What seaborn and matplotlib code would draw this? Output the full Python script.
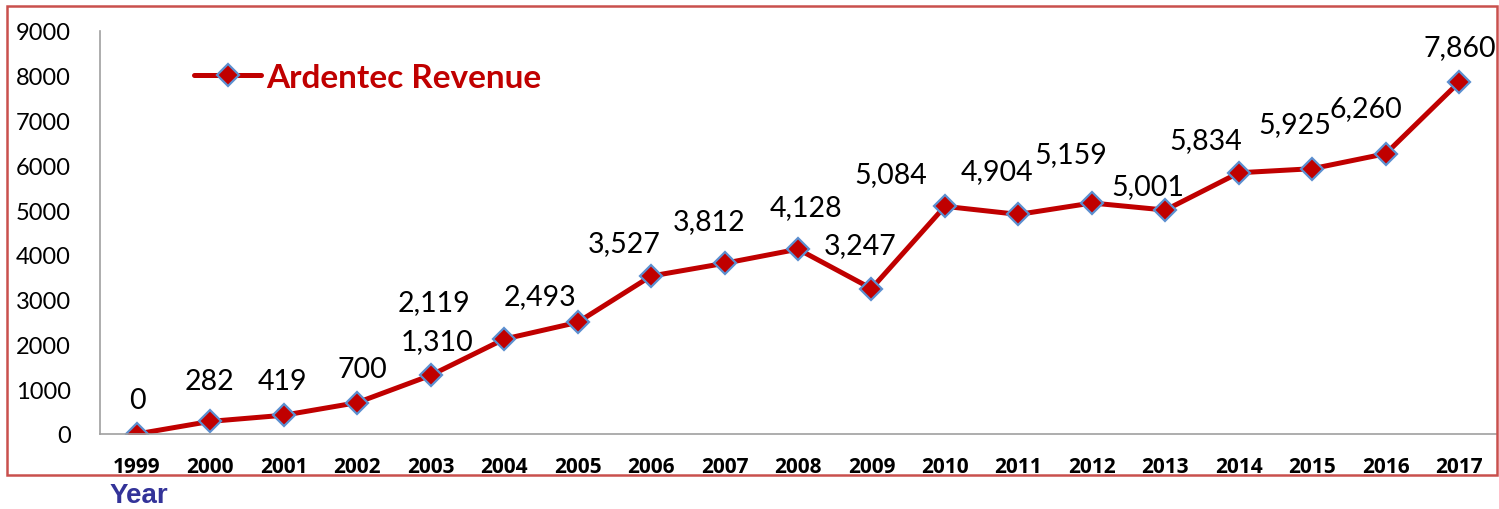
import matplotlib
matplotlib.use("Agg")
import matplotlib.pyplot as plt
import seaborn as sns
import pandas as pd
from matplotlib.patches import Rectangle

years = [str(y) for y in range(1999, 2018)]
revenue = [0, 282, 419, 700, 1310, 2119, 2493, 3527, 3812, 4128, 3247,
           5084, 4904, 5159, 5001, 5834, 5925, 6260, 7860]
labels = [f"{v:,}" for v in revenue]
yticks = list(range(0, 9001, 1000))

# label offsets in pixels (dx, dy) relative to each point
label_off = [(1, 34), (-1, 40), (-1, 34), (5, 34), (6, 34), (-70, 37), (-38, 26),
             (-27, 33), (-15, 42), (8, 42), (-11, 44), (-54, 32), (-21, 43),
             (-21, 49), (-18, 24), (-33, 33), (-18, 45), (-20, 46), (1, 35)]

sns.set_style("white")
plt.rcParams['font.family'] = ['Lato', 'DejaVu Sans']

fig = plt.figure(figsize=(14.99, 5.10), dpi=100)
ax = fig.add_axes([100/1499, 75/510, 1396/1499, 403/510])

df = pd.DataFrame({"pos": range(len(years)), "rev": revenue})
sns.lineplot(data=df, x="pos", y="rev", ax=ax, color="#C00000", linewidth=3.6,
             marker="D", markersize=11, markerfacecolor="#C00000",
             markeredgecolor="#5B8FD0", markeredgewidth=1.6, label="Ardentec Revenue")

for i, (v, t) in enumerate(zip(revenue, labels)):
    dx, dy = label_off[i]
    ax.annotate(t, (i, v), xytext=(dx, dy), textcoords="offset pixels",
                ha="center", va="center", fontsize=20.5, color="black")

ax.set_xlim(-0.5, len(years) - 0.5)
ax.set_ylim(0, 9000)
ax.set_xticks(range(len(years)))
ax.set_xticklabels(years)
for lbl in ax.get_xticklabels():
    lbl.set_fontfamily(["Open Sans", "DejaVu Sans"])
    lbl.set_fontweight("bold")
    lbl.set_fontsize(15)
    lbl.set_color("black")
ax.set_yticks(yticks)
ax.set_yticklabels([str(t) for t in yticks], fontsize=17, color="black")
ax.tick_params(axis="x", length=0, pad=16)
ax.tick_params(axis="y", length=7, width=1, color="#A0A0A0", pad=14, direction="out")
ax.set_xlabel("")
ax.set_ylabel("")
for s in ["top", "right"]:
    ax.spines[s].set_visible(False)
for s in ["left", "bottom"]:
    ax.spines[s].set_color("#A0A0A0")
    ax.spines[s].set_linewidth(1.2)

leg = ax.legend(loc="upper left", bbox_to_anchor=(0.046, 0.995), frameon=False,
                handlelength=2.0, handletextpad=0.15,
                prop={"size": 24, "weight": "bold"})
for txt in leg.get_texts():
    txt.set_color("#C00000")

fig.patches.append(Rectangle((7/1499, 34/510), 1490/1499, 469/510,
                             transform=fig.transFigure, fill=False,
                             edgecolor="#C9504D", linewidth=1.8, zorder=0))

fig.text(110/1499, 1 - 496/510, "Year", fontsize=20, fontweight="bold",
         color="#333399", ha="left", va="center", family=["Liberation Sans", "DejaVu Sans"])

fig.savefig("out.png", dpi=100)
